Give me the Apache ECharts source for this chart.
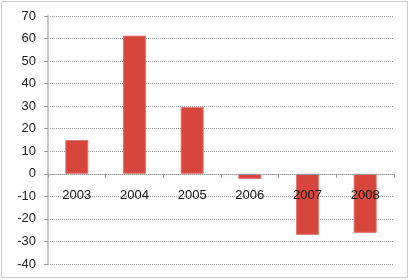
<!DOCTYPE html>
<html><head><meta charset="utf-8">
<script src="https://cdn.jsdelivr.net/npm/echarts@6/dist/echarts.min.js"></script>
<style>html,body{margin:0;padding:0;background:#fff}#c{width:410px;height:280px}</style>
</head><body><div id="c"></div>
<script>
var categories = ['2003','2004','2005','2006','2007','2008'];
var values = [15, 61.3, 29.6, -2.3, -27.1, -26.2];
var yMin = -40, yMax = 70, yStep = 10;

var gridTop = 16, gridBottom = 16, H = 280;
var plotH = H - gridTop - gridBottom;
var zeroOffset = -plotH * (0 - yMin) / (yMax - yMin);

var chart = echarts.init(document.getElementById('c'), null, {renderer:'canvas'});
chart.setOption({
  animation:false,
  backgroundColor:'#fff',
  graphic:[{type:'rect',shape:{x:1.5,y:1.5,width:406,height:276},style:{fill:'none',stroke:'#999',lineWidth:1,lineDash:[1,1]}}],
  grid:{left:48,right:16,top:gridTop,bottom:gridBottom,containLabel:false},
  xAxis:{type:'category',data:categories,position:'bottom',offset:zeroOffset,z:5,
    axisLine:{show:true,onZero:false,lineStyle:{color:'#999',type:[1,1],width:1}},
    axisTick:{show:true,length:4,lineStyle:{color:'#999'}},
    axisLabel:{color:'#111',fontFamily:'Liberation Sans',fontSize:13,margin:15}},
  yAxis:{type:'value',min:yMin,max:yMax,interval:yStep,
    axisLine:{show:true,lineStyle:{color:'#c8c8c8',width:2}},
    axisTick:{show:true,length:4,lineStyle:{color:'#999'}},
    splitLine:{lineStyle:{color:'#999',type:[1,1],width:1}},
    axisLabel:{color:'#222',fontFamily:'Liberation Sans',fontSize:13,margin:12}},
  series:[{type:'bar',data:values,barWidth:'40%',z:2,
    itemStyle:{color:'#d6463c',borderColor:'#e07a72',borderWidth:1}}]
});
</script></body></html>
